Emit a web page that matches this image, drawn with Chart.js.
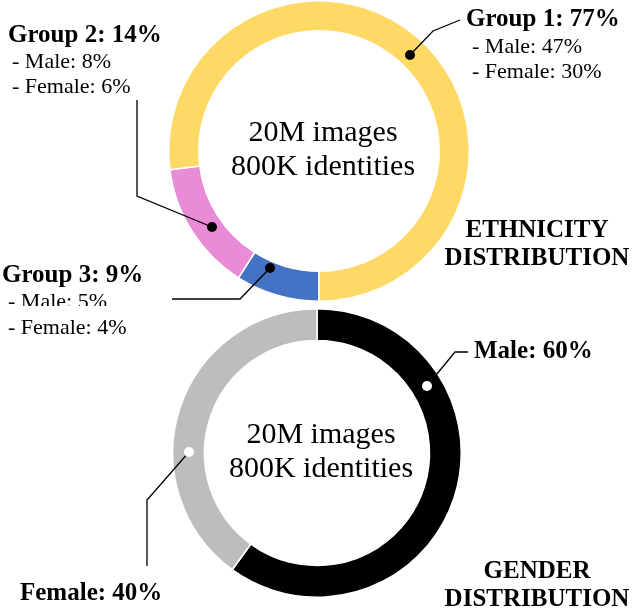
<!DOCTYPE html>
<html>
<head>
<meta charset="utf-8">
<script src="https://cdn.jsdelivr.net/npm/chart.js@4.4.0/dist/chart.umd.min.js"></script>
<style>
  body { margin: 0; background: #fff; }
  .box { position: absolute; left: 0; width: 632px; height: 306px; }
</style>
</head>
<body>
<div class="box" style="top:0"><canvas id="eth"></canvas></div>
<div class="box" style="top:306px"><canvas id="gen"></canvas></div>
<script>
// ethnicity ring, drawn clockwise from the bottom
const ethLabels = ['Group 3', 'Group 2', 'Group 1'];
const ethValues = [9, 14, 77];
const ethColors = ['#4472C4', '#E98BD6', '#FFD966'];

// gender ring, clockwise from the top
const genLabels = ['Male', 'Female'];
const genValues = [60, 40];
const genColors = ['#000000', '#BDBDBD'];

const centerText = ['20M images', '800K identities'];

const serif = '"Liberation Serif", "DejaVu Serif", serif';

function text(ctx, s, x, y, bold, size, align) {
    ctx.font = (bold ? 'bold ' : '') + size + 'px ' + serif;
    ctx.textAlign = align || 'left';
    ctx.textBaseline = 'middle';
    ctx.fillStyle = '#000';
    ctx.fillText(s, x, y);
}

function leader(ctx, pts, dotFill) {
    ctx.beginPath();
    ctx.moveTo(pts[0][0], pts[0][1]);
    pts.slice(1).forEach(p => ctx.lineTo(p[0], p[1]));
    ctx.strokeStyle = '#000';
    ctx.lineWidth = 1.3;
    ctx.stroke();
    const d = pts[0];
    ctx.beginPath();
    ctx.arc(d[0], d[1], 5, 0, Math.PI * 2);
    ctx.fillStyle = dotFill;
    ctx.fill();
}

function centerLabel(chart, size) {
    const ctx = chart.ctx;
    const a = chart.getDatasetMeta(0).data[0];
    text(ctx, centerText[0], a.x + 4, a.y - 18, false, size, 'center');
    text(ctx, centerText[1], a.x + 4, a.y + 16, false, size, 'center');
}

const ethNotes = {
    id: 'ethNotes',
    afterDraw(chart) {
        const ctx = chart.ctx;
        ctx.save();
        centerLabel(chart, 30);
        leader(ctx, [[410, 55], [433, 31], [460, 20]], '#000');
        text(ctx, 'Group 1: 77%', 466, 20, true, 25);
        text(ctx, '- Male: 47%', 472, 47, false, 22);
        text(ctx, '- Female: 30%', 472, 72, false, 22);

        leader(ctx, [[212, 227], [137, 196], [137, 100]], '#000');
        text(ctx, 'Group 2: 14%', 8, 36, true, 25);
        text(ctx, '- Male: 8%', 12, 62, false, 22);
        text(ctx, '- Female: 6%', 12, 87, false, 22);

        leader(ctx, [[270, 268], [240, 299], [172, 299]], '#000');
        text(ctx, 'Group 3: 9%', 2, 276, true, 25);
        text(ctx, '- Male: 5%', 8, 302, false, 22);

        text(ctx, 'ETHNICITY', 537, 231, true, 25, 'center');
        text(ctx, 'DISTRIBUTION', 537, 259, true, 25, 'center');
        ctx.restore();
    }
};

const genNotes = {
    id: 'genNotes',
    afterDraw(chart) {
        const ctx = chart.ctx;
        ctx.save();
        text(ctx, '- Female: 4%', 8, 22, false, 22);

        centerLabel(chart, 30);
        leader(ctx, [[427, 80], [455, 46], [468, 46]], '#fff');
        text(ctx, 'Male: 60%', 474, 46, true, 25);

        leader(ctx, [[189, 146], [147, 194], [147, 260]], '#fff');
        text(ctx, 'Female: 40%', 20, 288, true, 25);

        text(ctx, 'GENDER', 537, 266, true, 25, 'center');
        text(ctx, 'DISTRIBUTION', 537, 294, true, 25, 'center');
        ctx.restore();
    }
};

function ring(id, labels, values, colors, rotation, cutout, padding, plugin) {
    new Chart(document.getElementById(id), {
        type: 'doughnut',
        data: {
            labels: labels,
            datasets: [{
                data: values,
                backgroundColor: colors,
                borderColor: '#fff',
                borderWidth: 1.5
            }]
        },
        options: {
            responsive: true,
            maintainAspectRatio: false,
            animation: false,
            rotation: rotation,
            cutout: cutout,
            layout: { padding: padding },
            plugins: { legend: { display: false }, tooltip: { enabled: false } }
        },
        plugins: [plugin]
    });
}

ring('eth', ethLabels, ethValues, ethColors, 180, '80%',
    { left: 168, right: 162, top: 0, bottom: 4 }, ethNotes);
ring('gen', genLabels, genValues, genColors, 0, '78%',
    { left: 172, right: 170, top: 2, bottom: 14 }, genNotes);
</script>
</body>
</html>
